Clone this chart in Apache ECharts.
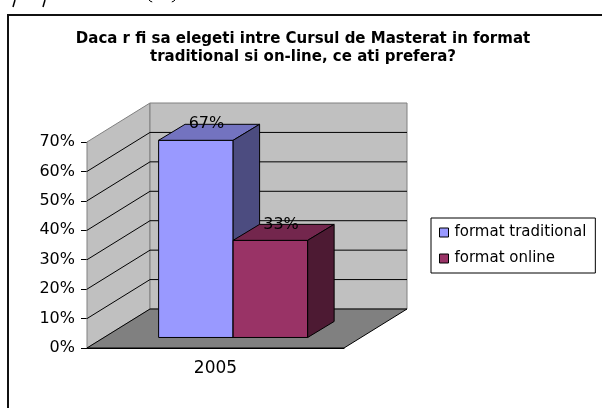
<!DOCTYPE html>
<html>
<head>
<meta charset="utf-8">
<script src="https://cdn.jsdelivr.net/npm/echarts@6/dist/echarts.min.js"></script>
<style>
  html, body { margin: 0; padding: 0; background: #fff; }
  #chart { width: 602px; height: 408px; }
</style>
</head>
<body>
<div id="chart"></div>
<script>
const categories = ['2005']
const traditional = [0.67]
const online = [0.33]
const seriesNames = ['format traditional', 'format online']
const gridValues = [0.1, 0.2, 0.3, 0.4, 0.5, 0.6]

// culori in stil Excel 2003
const faceColors = [
  { front: '#9999FF', top: '#7373C0', side: '#4C4C80' },
  { front: '#993366', top: '#73264D', side: '#4D1A33' }
]
// adancimea 3D a peretilor
const depth = [63, -39]
const font = '"DejaVu Sans", Verdana, sans-serif'

function renderWalls (params, api) {
  const cs = params.coordSys
  const x0 = cs.x
  const x1 = cs.x + cs.width
  const yb = api.coord([0, 0])[1]
  const yt = api.coord([0, 0.7])[1]
  const dx = depth[0]
  const dy = depth[1]
  const children = [
    { type: 'polygon', shape: { points: [[x0, yb], [x0, yt], [x0 + dx, yt + dy], [x0 + dx, yb + dy]] },
      style: { fill: '#C0C0C0', stroke: '#808080', lineWidth: 1 } },
    { type: 'rect', shape: { x: x0 + dx, y: yt + dy, width: x1 - x0, height: yb - yt },
      style: { fill: '#C0C0C0', stroke: '#808080', lineWidth: 1 } },
    { type: 'polygon', shape: { points: [[x0, yb], [x1, yb], [x1 + dx, yb + dy], [x0 + dx, yb + dy]] },
      style: { fill: '#808080', stroke: '#000', lineWidth: 1 } }
  ]
  gridValues.forEach(v => {
    const y = api.coord([0, v])[1]
    children.push({ type: 'line', shape: { x1: x0, y1: y, x2: x0 + dx, y2: y + dy }, style: { stroke: '#000', lineWidth: 1 } })
    children.push({ type: 'line', shape: { x1: x0 + dx, y1: y + dy, x2: x1 + dx, y2: y + dy }, style: { stroke: '#000', lineWidth: 1 } })
  })
  return { type: 'group', children }
}

function barRenderer (s) {
  return function (params, api) {
    const c = api.coord([api.value(0), api.value(1)])
    const base = api.coord([api.value(0), 0])
    const band = api.size([1, 0])[0]
    const w = band * 0.29
    const fx = depth[0] * 0.28
    const fy = depth[1] * 0.27
    const dx = depth[0] * 0.42
    const dy = depth[1] * 0.41
    const l = c[0] - w + s * w + fx
    const r = l + w
    const t = c[1] + fy
    const b = base[1] + fy
    const col = faceColors[s]
    const st = { stroke: '#000', lineWidth: 1 }
    return {
      type: 'group',
      children: [
        { type: 'rect', shape: { x: l, y: t, width: w, height: b - t }, style: Object.assign({ fill: col.front }, st) },
        { type: 'polygon', shape: { points: [[l, t], [r, t], [r + dx, t + dy], [l + dx, t + dy]] }, style: Object.assign({ fill: col.top }, st) },
        { type: 'polygon', shape: { points: [[r, t], [r + dx, t + dy], [r + dx, b + dy], [r, b]] }, style: Object.assign({ fill: col.side }, st) },
        { type: 'text', x: (l + r) / 2 + dx * 0.4, y: t + dy,
          style: { text: Math.round(api.value(1) * 100) + '%', fill: '#000', font: '16px ' + font, align: 'center', verticalAlign: 'middle' } }
      ]
    }
  }
}

const myChart = echarts.init(document.getElementById('chart'), null, { renderer: 'canvas' })
myChart.setOption({
  animation: false,
  backgroundColor: '#fff',
  title: {
    text: 'Daca r fi sa elegeti intre Cursul de Masterat in format\ntraditional si on-line, ce ati prefera?',
    left: 298,
    textAlign: 'center',
    top: 25,
    textStyle: { fontFamily: font, fontWeight: 'bold', fontSize: 15, lineHeight: 18, color: '#000' }
  },
  graphic: [
    { type: 'rect', shape: { x: 8, y: 15, width: 620, height: 420 }, style: { fill: 'none', stroke: '#111', lineWidth: 2 }, z: 100 },
    // resturi de text taiate la marginea de sus
    { type: 'line', shape: { x1: 13, y1: 7, x2: 15, y2: 0 }, style: { stroke: '#000', lineWidth: 1.5 } },
    { type: 'line', shape: { x1: 43, y1: 7, x2: 45, y2: 0 }, style: { stroke: '#000', lineWidth: 1.5 } },
    { type: 'arc', shape: { cx: 153, cy: -3, r: 5, startAngle: Math.PI * 0.55, endAngle: Math.PI * 0.85 }, style: { stroke: '#000', lineWidth: 1, fill: 'none' } },
    { type: 'arc', shape: { cx: 171, cy: -3, r: 5, startAngle: Math.PI * 0.15, endAngle: Math.PI * 0.45 }, style: { stroke: '#000', lineWidth: 1, fill: 'none' } }
  ],
  legend: {
    orient: 'vertical',
    left: 431,
    top: 218,
    padding: [7, 9, 7, 8],
    itemGap: 11,
    itemWidth: 9,
    itemHeight: 9,
    icon: 'rect',
    borderColor: '#000',
    borderWidth: 1,
    itemStyle: { borderColor: '#000', borderWidth: 1 },
    textStyle: { fontFamily: font, fontSize: 15, color: '#000', padding: [0, 0, 0, 1] },
    data: seriesNames
  },
  grid: { left: 87, right: 258, top: 142, bottom: 60 },
  xAxis: {
    type: 'category',
    data: categories,
    axisLine: { lineStyle: { color: '#000' } },
    axisTick: { length: 6, lineStyle: { color: '#000' } },
    axisLabel: { fontFamily: font, fontSize: 17, color: '#000', margin: 12 }
  },
  yAxis: {
    type: 'value',
    min: 0,
    max: 0.7,
    interval: 0.1,
    axisLine: { show: true, lineStyle: { color: '#555' } },
    axisTick: { show: true, length: 6, lineStyle: { color: '#000' } },
    splitLine: { show: false },
    axisLabel: { fontFamily: font, fontSize: 16, color: '#000', margin: 12,
      formatter: v => Math.round(v * 100) + '%' }
  },
  series: [
    { type: 'custom', name: 'walls', renderItem: renderWalls, data: [[0, 0.7]], silent: true, z: 1 },
    { type: 'custom', name: seriesNames[0], renderItem: barRenderer(0), itemStyle: { color: faceColors[0].front },
      data: traditional.map((v, i) => [i, v]), z: 2 },
    { type: 'custom', name: seriesNames[1], renderItem: barRenderer(1), itemStyle: { color: faceColors[1].front },
      data: online.map((v, i) => [i, v]), z: 3 }
  ]
})
</script>
</body>
</html>
